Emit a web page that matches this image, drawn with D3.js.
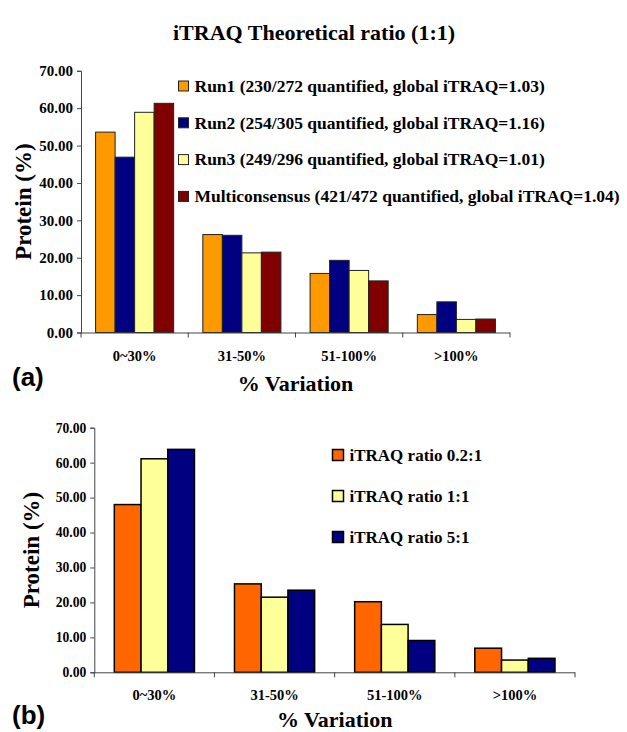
<!DOCTYPE html>
<html>
<head>
<meta charset="utf-8">
<script src="https://cdn.jsdelivr.net/npm/d3@7"></script>
<style>
  body { margin: 0; background: #fff; }
  svg text { font-family: "Liberation Serif", "Tinos", "Times New Roman", "DejaVu Serif", serif; font-weight: bold; fill: #000; }
  svg text.letter { font-family: "Liberation Sans", Arimo, Arial, sans-serif; }
</style>
</head>
<body>
<div id="app"></div>
<script>
const categories = ["0~30%", "31-50%", "51-100%", ">100%"];
const yTicks = [0, 10, 20, 30, 40, 50, 60, 70];

// panel (a)
const runsA = [
  "Run1 (230/272 quantified, global iTRAQ=1.03)",
  "Run2 (254/305 quantified, global iTRAQ=1.16)",
  "Run3 (249/296 quantified, global iTRAQ=1.01)",
  "Multiconsensus (421/472 quantified, global iTRAQ=1.04)"
];
const run1 = [53.6, 26.2, 15.8, 4.8];
const run2 = [46.9, 26.0, 19.3, 8.2];
const run3 = [58.9, 21.3, 16.6, 3.5];
const multi = [61.3, 21.5, 13.8, 3.6];
const colorsA = ["#FF9900", "#000080", "#FFFF99", "#800000"];

// panel (b)
const ratiosB = ["iTRAQ ratio 0.2:1", "iTRAQ ratio 1:1", "iTRAQ ratio 5:1"];
const ratio02 = [48.0, 25.3, 20.2, 6.9];
const ratio11 = [61.1, 21.5, 13.7, 3.5];
const ratio51 = [63.8, 23.5, 9.1, 4.0];
const colorsB = ["#FF6600", "#FFFF99", "#000080"];

const W = 627, H = 732;
const svg = d3.select("#app").append("svg").attr("width", W).attr("height", H);

svg.append("text")
  .attr("x", 314).attr("y", 40)
  .attr("text-anchor", "middle")
  .style("font-size", "22px")
  .text("iTRAQ Theoretical ratio (1:1)");

const drawPanel = (opt) => {
  const { left, right, top, bottom, series, names, colors, groupFrac, tickSize, stroke, strokeW } = opt;

  const x0 = d3.scaleBand().domain(categories).range([left, right]);
  const x1 = d3.scaleBand().domain(d3.range(series.length))
    .range([x0.bandwidth() * (1 - groupFrac) / 2, x0.bandwidth() * (1 + groupFrac) / 2]);
  const y = d3.scaleLinear().domain([0, 70]).range([bottom, top]);

  const g = svg.append("g");

  // bars
  categories.forEach((c, ci) => {
    g.append("g")
      .attr("transform", `translate(${x0(c)},0)`)
      .selectAll("rect")
      .data(series.map((s, si) => ({ si, v: s[ci] })))
      .enter()
      .append("rect")
      .attr("x", (d) => x1(d.si))
      .attr("y", (d) => y(d.v))
      .attr("width", x1.bandwidth())
      .attr("height", (d) => bottom - y(d.v))
      .style("fill", (d) => colors[d.si])
      .style("stroke", stroke)
      .style("stroke-width", strokeW);
  });

  // y axis
  const yAxis = d3.axisLeft(y).tickValues(yTicks).tickFormat(d3.format(".2f")).tickSize(4).tickPadding(4);
  const ya = g.append("g").attr("transform", `translate(${left},0)`).call(yAxis);
  ya.attr("font-family", null).attr("font-size", null);
  ya.selectAll("text").style("font-size", tickSize + "px");
  ya.select(".domain").attr("stroke", "#444");
  ya.selectAll(".tick line").attr("stroke", "#444");

  // x axis: ticks at category boundaries
  const bounds = categories.map((c) => x0(c)).concat([right]);
  g.append("line")
    .attr("x1", left).attr("x2", right)
    .attr("y1", bottom + 0.5).attr("y2", bottom + 0.5)
    .attr("stroke", "#444");
  g.selectAll(".xt")
    .data(bounds)
    .enter()
    .append("line")
    .attr("x1", (d) => d).attr("x2", (d) => d)
    .attr("y1", bottom).attr("y2", bottom + 5)
    .attr("stroke", "#444");
  g.selectAll(".xl")
    .data(categories)
    .enter()
    .append("text")
    .attr("x", (d) => x0(d) + x0.bandwidth() / 2)
    .attr("y", opt.xLabelY)
    .attr("text-anchor", "middle")
    .style("font-size", "14.5px")
    .text((d) => d);

  // axis titles
  g.append("text")
    .attr("x", (left + right) / 2).attr("y", opt.xTitleY)
    .attr("text-anchor", "middle")
    .style("font-size", "22px")
    .text("% Variation");
  g.append("text")
    .attr("transform", `translate(${opt.yTitleX},${(top + bottom) / 2}) rotate(-90)`)
    .attr("text-anchor", "middle")
    .style("font-size", "23px")
    .text("Protein (%)");

  // panel letter
  g.append("text")
    .attr("class", "letter")
    .attr("x", 12).attr("y", opt.letterY)
    .style("font-size", "26px")
    .text(opt.letter);

  // legend
  const lg = g.append("g").attr("transform", `translate(${opt.legX},${opt.legY})`);
  const items = lg.selectAll("g")
    .data(names)
    .enter()
    .append("g")
    .attr("transform", (d, i) => `translate(0,${i * opt.legStep})`);
  items.append("rect")
    .attr("x", 0).attr("y", -opt.sq / 2)
    .attr("width", opt.sq).attr("height", opt.sq)
    .style("fill", (d, i) => colors[i])
    .style("stroke", stroke)
    .style("stroke-width", strokeW);
  items.append("text")
    .attr("x", opt.sq + 6).attr("y", opt.legFont * 0.33)
    .style("font-size", opt.legFont + "px")
    .text((d) => d);
};

drawPanel({
  left: 81, right: 510, top: 70.8, bottom: 332.5,
  series: [run1, run2, run3, multi], names: runsA, colors: colorsA,
  groupFrac: 0.728, tickSize: 15, stroke: "#222", strokeW: 1,
  xLabelY: 361, xTitleY: 391, yTitleX: 31, letter: "(a)", letterY: 386,
  legX: 178.5, legY: 86, legStep: 36.8, sq: 10, legFont: 17.5
});

drawPanel({
  left: 94.3, right: 575, top: 427.7, bottom: 672.3,
  series: [ratio02, ratio11, ratio51], names: ratiosB, colors: colorsB,
  groupFrac: 0.667, tickSize: 13.6, stroke: "#000", strokeW: 1.5,
  xLabelY: 700, xTitleY: 727, yTitleX: 39, letter: "(b)", letterY: 724,
  legX: 332.5, legY: 455, legStep: 41, sq: 11, legFont: 17
});
</script>
</body>
</html>
